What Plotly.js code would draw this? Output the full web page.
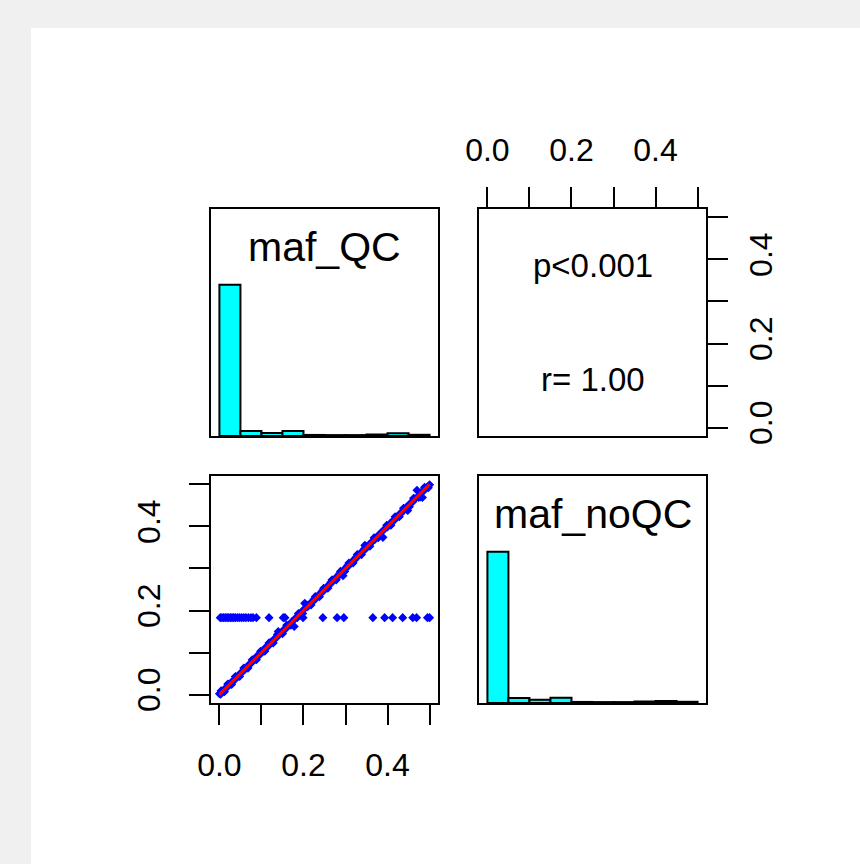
<!DOCTYPE html>
<html>
<head>
<meta charset="utf-8">
<script src="https://cdn.plot.ly/plotly-3.0.1.min.js"></script>
<style>html,body{margin:0;padding:0;background:#f0f0f0;}#chart{width:860px;height:864px;}</style>
</head>
<body>
<div id="chart"></div>
<script>
// ---- data ----
const binCenters = [0.025, 0.075, 0.125, 0.175, 0.225, 0.275, 0.325, 0.375, 0.425, 0.475];
const histQC   = [1.000, 0.033, 0.020, 0.033, 0.007, 0.006, 0.006, 0.010, 0.018, 0.008];
const histNoQC = [1.000, 0.033, 0.022, 0.035, 0.007, 0.006, 0.006, 0.010, 0.014, 0.008];

const mafQC = [
  0.000,0.003,0.006,0.010,0.014,0.018,0.022,0.027,0.031,0.036,0.041,0.046,0.051,0.056,0.061,0.066,0.071,0.076,0.081,0.086,
  0.091,0.096,0.101,0.106,0.111,0.116,0.121,0.126,0.131,0.136,0.140,0.143,0.148,0.153,0.158,0.163,0.168,0.173,0.178,0.180,
  0.185,0.190,0.195,0.200,0.203,0.210,0.215,0.220,0.225,0.230,0.235,0.240,0.245,0.250,0.255,0.260,0.265,0.270,0.275,0.280,
  0.285,0.290,0.294,0.295,0.300,0.305,0.310,0.315,0.320,0.325,0.330,0.335,0.340,0.345,0.346,0.350,0.355,0.360,0.365,0.370,
  0.375,0.380,0.385,0.389,0.395,0.400,0.405,0.410,0.415,0.420,0.425,0.430,0.435,0.440,0.445,0.448,0.450,0.455,0.460,0.465,
  0.470,0.472,0.478,0.480,0.483,0.485,0.490,0.495,0.500,
  0.004,0.012,0.020,0.029,0.038,0.048,0.058,0.068,0.078,0.088,0.098,0.108,0.118,0.128,0.138,0.150,0.160,0.170,0.188,0.198,
  0.208,0.218,0.228,0.238,0.248,0.258,0.268,0.278,0.288,0.298,0.308,0.318,0.328,0.338,0.348,0.358,0.368,0.378,0.398,0.408,
  0.418,0.428,0.438,0.452,0.462,0.474,0.488,0.497,
  0.002,0.006,0.010,0.014,0.018,0.022,0.026,0.030,0.034,0.038,0.043,0.048,0.053,0.058,0.063,0.069,0.075,0.080,0.088,0.118,
  0.152,0.156,0.185,0.199,0.246,0.280,0.296,0.365,0.393,0.412,0.436,0.460,0.469,0.495,0.500
];
const mafNoQC = [
  0.002,0.001,0.007,0.009,0.015,0.017,0.023,0.026,0.032,0.035,0.042,0.045,0.052,0.055,0.062,0.065,0.072,0.075,0.083,0.085,
  0.093,0.095,0.103,0.105,0.113,0.115,0.124,0.125,0.133,0.136,0.150,0.146,0.147,0.154,0.157,0.164,0.167,0.174,0.162,0.181,
  0.184,0.191,0.194,0.202,0.217,0.209,0.216,0.219,0.227,0.229,0.236,0.239,0.247,0.249,0.256,0.259,0.267,0.269,0.276,0.279,
  0.287,0.289,0.283,0.296,0.299,0.307,0.309,0.316,0.319,0.327,0.329,0.336,0.339,0.347,0.355,0.349,0.356,0.360,0.366,0.369,
  0.376,0.379,0.386,0.374,0.396,0.399,0.406,0.409,0.416,0.419,0.426,0.429,0.436,0.439,0.446,0.438,0.449,0.456,0.459,0.466,
  0.486,0.471,0.470,0.481,0.469,0.484,0.491,0.494,0.499,
  0.009,0.007,0.025,0.024,0.043,0.043,0.063,0.063,0.083,0.083,0.103,0.103,0.123,0.123,0.143,0.145,0.165,0.165,0.193,0.193,
  0.213,0.213,0.233,0.233,0.253,0.253,0.273,0.273,0.293,0.293,0.313,0.313,0.333,0.333,0.353,0.353,0.373,0.373,0.403,0.403,
  0.423,0.423,0.443,0.447,0.467,0.469,0.493,0.492,
  0.183,0.183,0.183,0.183,0.183,0.183,0.183,0.183,0.183,0.183,0.183,0.183,0.183,0.183,0.183,0.183,0.183,0.183,0.183,0.183,
  0.183,0.183,0.183,0.183,0.183,0.183,0.183,0.183,0.183,0.183,0.183,0.183,0.183,0.183,0.183
];
const fitX = [0.0, 0.5];
const fitY = [0.0, 0.5];

const tickVals = [0.0, 0.1, 0.2, 0.3, 0.4, 0.5];
const tickText = ['0.0', '', '0.2', '', '0.4', ''];
const diagLabels = ['maf_QC', 'maf_noQC'];
const corText = ['p<0.001', 'r= 1.00'];

// ---- layout helpers ----
const W = 860, H = 864;
const dx = (a, b) => [a / W, b / W];
const dy = (top, bottom) => [1 - bottom / H, 1 - top / H];
const FONT = 'Liberation Sans, Arial, Helvetica, sans-serif';

function baseAxis(extra) {
  return Object.assign({
    showline: true, mirror: true, linecolor: 'black', linewidth: 2,
    showgrid: false, zeroline: false, automargin: false, fixedrange: true,
    ticks: '', showticklabels: false
  }, extra);
}
function tickAxis(extra) {
  return baseAxis(Object.assign({
    ticks: 'outside', ticklen: 20, tickwidth: 2, tickcolor: 'black',
    showticklabels: true, tickmode: 'array', tickvals: tickVals, ticktext: tickText,
    tickfont: {family: FONT, size: 32, color: 'black'}
  }, extra));
}

const traces = [
  {type: 'bar', x: binCenters, y: histQC, width: 0.05, xaxis: 'x', yaxis: 'y',
   marker: {color: '#00ffff', line: {color: 'black', width: 2}}, hoverinfo: 'skip'},
  {type: 'scatter', mode: 'markers', x: [], y: [], xaxis: 'x2', yaxis: 'y2', hoverinfo: 'skip'},
  {type: 'scatter', mode: 'markers', x: mafQC, y: mafNoQC, xaxis: 'x3', yaxis: 'y3',
   marker: {symbol: 'diamond', size: 7, color: '#0000ff'}, hoverinfo: 'skip'},
  {type: 'scatter', mode: 'lines', x: fitX, y: fitY, xaxis: 'x3', yaxis: 'y3',
   line: {color: '#ff0000', width: 3}, hoverinfo: 'skip'},
  {type: 'bar', x: binCenters, y: histNoQC, width: 0.05, xaxis: 'x4', yaxis: 'y4',
   marker: {color: '#00ffff', line: {color: 'black', width: 2}}, hoverinfo: 'skip'}
];

const layout = {
  width: W, height: H,
  margin: {l: 0, r: 0, t: 0, b: 0, pad: 0},
  paper_bgcolor: '#f0f0f0', plot_bgcolor: '#ffffff',
  showlegend: false, bargap: 0,
  font: {family: FONT, color: 'black'},
  xaxis:  baseAxis({domain: dx(211, 438), range: [-0.02, 0.52], anchor: 'y'}),
  yaxis:  baseAxis({domain: dy(209, 436), range: [0, 1.5], anchor: 'x'}),
  xaxis2: tickAxis({domain: dx(479, 706), range: [-0.02, 0.52], anchor: 'y2', side: 'top', ticklabelstandoff: 13}),
  yaxis2: tickAxis({domain: dy(209, 436), range: [-0.02, 0.52], anchor: 'x2', side: 'right', tickangle: -90, ticklabelstandoff: 6}),
  xaxis3: tickAxis({domain: dx(211, 438), range: [-0.02, 0.52], anchor: 'y3', side: 'bottom', ticklabelstandoff: 13}),
  yaxis3: tickAxis({domain: dy(476, 703), range: [-0.02, 0.52], anchor: 'x3', side: 'left', tickangle: -90, ticklabelstandoff: 16}),
  xaxis4: baseAxis({domain: dx(479, 706), range: [-0.02, 0.52], anchor: 'y4'}),
  yaxis4: baseAxis({domain: dy(476, 703), range: [0, 1.5], anchor: 'x4'}),
  shapes: [
    {type: 'rect', xref: 'paper', yref: 'paper', x0: 31 / W, x1: 1, y0: 0, y1: 1 - 28 / H,
     fillcolor: '#ffffff', line: {width: 0}, layer: 'below'}
  ],
  annotations: [
    {xref: 'x domain', yref: 'y domain', x: 0.5, y: 0.833, text: diagLabels[0], showarrow: false,
     xanchor: 'center', yanchor: 'middle', font: {family: FONT, size: 41, color: 'black'}},
    {xref: 'x4 domain', yref: 'y4 domain', x: 0.5, y: 0.833, text: diagLabels[1], showarrow: false,
     xanchor: 'center', yanchor: 'middle', font: {family: FONT, size: 41, color: 'black'}},
    {xref: 'x2 domain', yref: 'y2 domain', x: 0.5, y: 0.75, text: corText[0], showarrow: false,
     xanchor: 'center', yanchor: 'middle', font: {family: FONT, size: 33, color: 'black'}},
    {xref: 'x2 domain', yref: 'y2 domain', x: 0.5, y: 0.25, text: corText[1], showarrow: false,
     xanchor: 'center', yanchor: 'middle', font: {family: FONT, size: 33, color: 'black'}}
  ]
};

Plotly.newPlot('chart', traces, layout, {staticPlot: true, displayModeBar: false});
</script>
</body>
</html>
